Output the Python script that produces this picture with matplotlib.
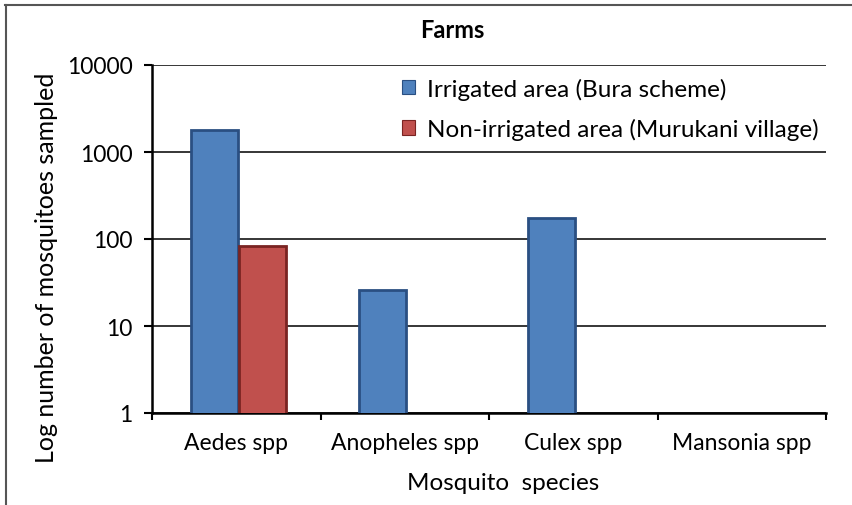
import matplotlib.pyplot as plt
import numpy as np
from matplotlib.lines import Line2D

plt.rcParams['font.family'] = ['Lato', 'DejaVu Sans']

species = ["Aedes spp", "Anopheles spp", "Culex spp", "Mansonia spp"]
irrigated = [1800, 26, 175, 0]
non_irrigated = [82, 0, 0, 0]
series_names = ["Irrigated area (Bura scheme)", "Non-irrigated area (Murukani village)"]

fig = plt.figure(figsize=(8.53, 5.06), dpi=100)
ax = fig.add_axes([152/853, 1-414/506, (826-152)/853, (414-66)/506])

x = np.arange(len(species))
w = 0.28
ax.bar(x - 0.13, irrigated, w, color="#4f81bd", edgecolor="#2a4f82", linewidth=2,
       label=series_names[0], zorder=3)
ax.bar(x + 0.155, non_irrigated, w, color="#c0504d", edgecolor="#7a2422", linewidth=2,
       label=series_names[1], zorder=3)

ax.set_yscale("log")
ax.set_ylim(1, 10000)
ax.set_yticks([1, 10, 100, 1000, 10000])
ax.set_yticklabels(["1", "10", "100", "1000", "10000"])
ax.minorticks_off()
ax.set_xlim(-0.5, 3.5)
ax.yaxis.grid(True, color="black", linewidth=1.1, zorder=0)

# category ticks sit on the boundaries between groups
ax.set_xticks(x)
ax.set_xticklabels(species)
ax.tick_params(axis="x", length=0, labelsize=16.5, pad=14)
ax.set_xticks(np.arange(-0.5, 4.0, 1.0), minor=True)
ax.tick_params(axis="x", which="minor", length=5, width=1.5, direction="out")
ax.tick_params(axis="y", length=6, width=1.5, labelsize=16.5, direction="out", pad=8)

for s in ["top", "right"]:
    ax.spines[s].set_visible(False)
ax.spines["left"].set_linewidth(1.8)
ax.spines["bottom"].set_linewidth(1.8)

ax.set_xlabel("Mosquito  species", fontsize=17.5)
ax.xaxis.set_label_coords((503-152)/674, -(483-414)/348)
ax.xaxis.label.set_va("center")
ax.set_ylabel("Log number of mosquitoes sampled", fontsize=18)
ax.yaxis.set_label_coords(-(152-46)/674, (414-268)/348)
ax.yaxis.label.set_va("center")
fig.text(452/853, 1-30/506, "Farms", ha="center", va="center", fontsize=17, fontweight="bold")

leg = ax.legend(loc="upper left", bbox_to_anchor=(0.36, 0.985), frameon=True, fontsize=17.5,
                handlelength=0.55, handleheight=0.55, handletextpad=0.5, labelspacing=0.75,
                borderaxespad=0, borderpad=0.3, fancybox=False)
leg.get_frame().set_edgecolor("none")
leg.get_frame().set_facecolor("white")
leg.get_frame().set_alpha(1)
for h in leg.legend_handles:
    h.set_linewidth(0.8)

# outer frame along top and left edge
fig.add_artist(Line2D([5/853, 1], [1-6/506, 1-6/506], color="#555555", linewidth=1.5))
fig.add_artist(Line2D([6/853, 6/853], [0, 1-6/506], color="#555555", linewidth=1.5))

fig.savefig("out.png", dpi=100)
